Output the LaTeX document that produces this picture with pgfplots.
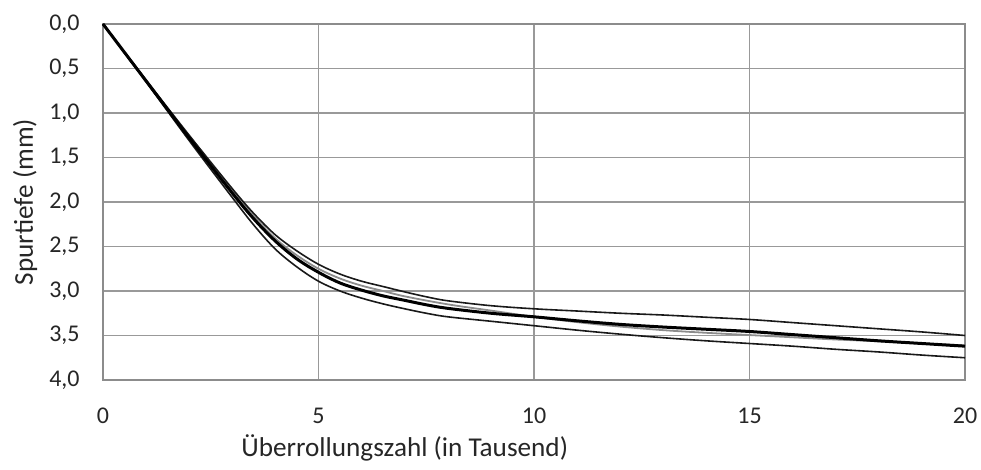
\documentclass[border=0pt]{standalone}
\usepackage{fontspec}
\setmainfont{Carlito}
\usepackage{pgfplots}
\pgfplotsset{compat=1.18}
\begin{document}
\begin{tikzpicture}
\begin{axis}[
  scale only axis,
  width=431pt, height=178pt,
  xmin=0, xmax=20, ymin=0, ymax=4,
  y dir=reverse,
  xtick={0,5,10,15,20},
  ytick={0,0.5,...,4},
  major tick length=0pt,
  grid=major,
  major grid style={draw=black!40, line width=0.6pt},
  axis line style={draw=black!45, line width=0.6pt},
  /pgf/number format/assume math mode=true,
  yticklabel={\pgfmathprintnumber[fixed,fixed zerofill,precision=1,use comma]{\tick}},
  xticklabel={\pgfmathprintnumber{\tick}},
  ticklabel style={font=\fontsize{12}{14}\selectfont, text=black!85},
  yticklabel style={anchor=east, inner sep=0pt, xshift=-11.5pt},
  xticklabel style={anchor=north, inner sep=0pt, yshift=-14pt},
  xlabel={Überrollungszahl (in Tausend)},
  ylabel={Spurtiefe (mm)},
  label style={font=\fontsize{13.6}{16}\selectfont, text=black!85},
  xlabel style={at={([yshift=-38.5pt]axis description cs:0.35,0)}, anchor=base, inner sep=0pt},
  ylabel style={at={([xshift=-39pt]axis description cs:0,0.5)}, anchor=center, inner sep=0pt},
  clip=false,
]
% gray curve
\addplot[draw=black!45, line width=0.9pt, smooth, tension=0.55] coordinates {
(0,0) (1,0.635) (2,1.27) (3,1.87) (3.5,2.16) (4,2.41) (4.5,2.60) (5,2.75) (5.5,2.86) (6,2.94) (6.5,3.00) (7,3.06) (8,3.15) (9,3.22) (10,3.29) (11,3.35) (12,3.40) (13,3.44) (14,3.47) (15,3.495) (16,3.52) (17,3.545) (18,3.565) (19,3.59) (20,3.61)
};
% upper thin
\addplot[draw=black!90, line width=0.8pt, smooth, tension=0.55] coordinates {
(0,0) (1,0.63) (2,1.25) (3,1.85) (3.5,2.13) (4,2.37) (4.5,2.55) (5,2.70) (5.5,2.81) (6,2.89) (6.5,2.95) (7,3.01) (7.5,3.065) (8,3.11) (9,3.165) (10,3.20) (11,3.225) (12,3.25) (13,3.27) (14,3.295) (15,3.32) (16,3.355) (17,3.39) (18,3.425) (19,3.46) (20,3.50)
};
% lower thin
\addplot[draw=black!90, line width=0.8pt, smooth, tension=0.55] coordinates {
(0,0) (1,0.65) (2,1.31) (3,1.95) (3.5,2.26) (4,2.53) (4.5,2.73) (5,2.89) (5.5,3.00) (6,3.08) (6.5,3.145) (7,3.20) (7.5,3.25) (8,3.29) (9,3.34) (10,3.39) (11,3.44) (12,3.485) (13,3.525) (14,3.56) (15,3.59) (16,3.62) (17,3.655) (18,3.685) (19,3.72) (20,3.75)
};
% thick
\addplot[draw=black, line width=1.5pt, smooth, tension=0.55] coordinates {
(0,0) (1,0.64) (2,1.28) (3,1.90) (3.5,2.19) (4,2.44) (4.5,2.64) (5,2.79) (5.5,2.91) (6,2.99) (6.5,3.055) (7,3.105) (7.5,3.155) (8,3.195) (9,3.25) (10,3.29) (11,3.335) (12,3.375) (13,3.405) (14,3.43) (15,3.455) (16,3.49) (17,3.525) (18,3.56) (19,3.59) (20,3.62)
};
\end{axis}
\pgfresetboundingbox
\path ([shift={(-51.5pt,-45pt)}]current axis.south west) rectangle ([shift={(8pt,12pt)}]current axis.north east);
\end{tikzpicture}
\end{document}
